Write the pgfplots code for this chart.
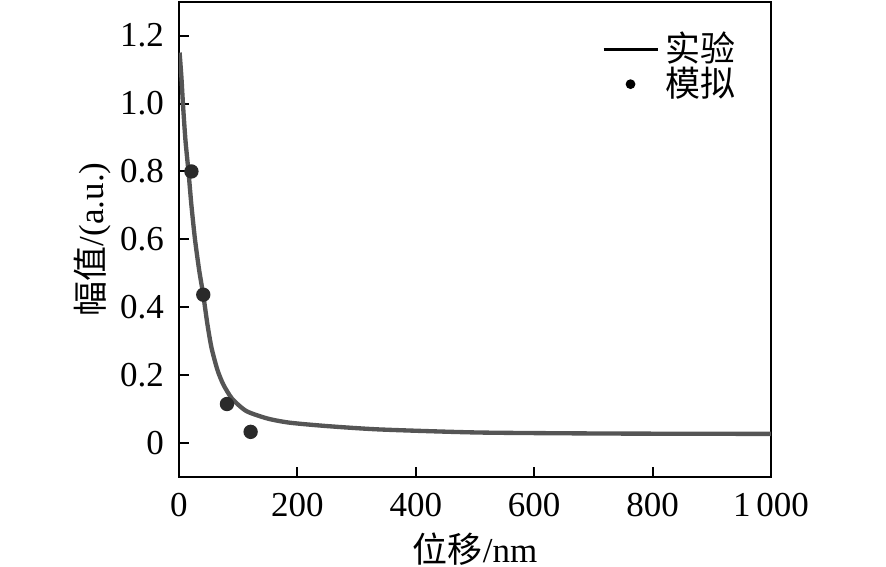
\documentclass[border=0pt]{standalone}
\usepackage{pgfplots}
\pgfplotsset{compat=1.18}
\usepackage{fontspec}
\setmainfont{Liberation Serif}
\newfontfamily\cjk{Noto Sans CJK SC}
\definecolor{curvegray}{HTML}{555555}
\definecolor{dotgray}{HTML}{2A2A2A}
\begin{document}
\begin{tikzpicture}[x=1pt,y=1pt]
\path[use as bounding box] (-53.7,-26.7) rectangle (212.1,143.1);
\begin{axis}[
  at={(0,0)}, anchor=south west,
  scale only axis,
  width=177.6pt, height=142.6pt,
  xmin=0, xmax=1000, ymin=-0.1, ymax=1.3,
  axis line style={line width=0.6pt},
  tick style={line width=0.6pt, black},
  tick align=inside,
  major tick length=3pt,
  xtick={0,200,400,600,800,1000},
  xticklabels={0,200,400,600,800,1\,000},
  ytick={0,0.2,0.4,0.6,0.8,1.0,1.2},
  yticklabels={0,0.2,0.4,0.6,0.8,1.0,1.2},
  xtick pos=bottom, ytick pos=left,
  /pgf/number format/assume math mode=true,
  tick label style={font=\fontsize{10.5}{12}\selectfont},
  xticklabel style={yshift=-1.2pt},
  yticklabel style={xshift=-1pt},
  xlabel={{\cjk 位移}/nm},
  ylabel={{\cjk 幅值}/(a.u.)},
  label style={font=\fontsize{10.5}{12}\selectfont},
  xlabel style={yshift=2pt},
  ylabel style={yshift=-4pt},
  legend style={draw=none, fill=none, at={(0.97,0.965)}, anchor=north east,
    font=\fontsize{10.5}{12}\selectfont, row sep=-4pt, cells={anchor=west}},
  legend cell align=left,
]
\addplot[curvegray, line width=1.3pt, smooth, tension=0.4,
  legend image code/.code={\draw[black,line width=1pt] (0cm,0cm) -- (0.57cm,0cm);}]
  coordinates {
  (1,1.15) (4,1.08) (7,0.99) (11,0.89) (16,0.80) (21,0.70) (27,0.60) (34,0.51) (41,0.436)
  (48,0.35) (55,0.28) (65,0.215) (75,0.172) (90,0.13) (114,0.094) (150,0.072)
  (187,0.06) (250,0.05) (340,0.04) (508,0.031) (733,0.028) (1000,0.027)};
\addlegendentry{\cjk 实验}
\addplot[only marks, mark=*, mark size=1.95pt, dotgray,
  legend image code/.code={\fill[black] (0.285cm,0cm) circle (1.25pt);}]
  coordinates {(21,0.80) (41,0.437) (81,0.115) (121,0.033)};
\addlegendentry{\cjk 模拟}
\end{axis}
\end{tikzpicture}
\end{document}
